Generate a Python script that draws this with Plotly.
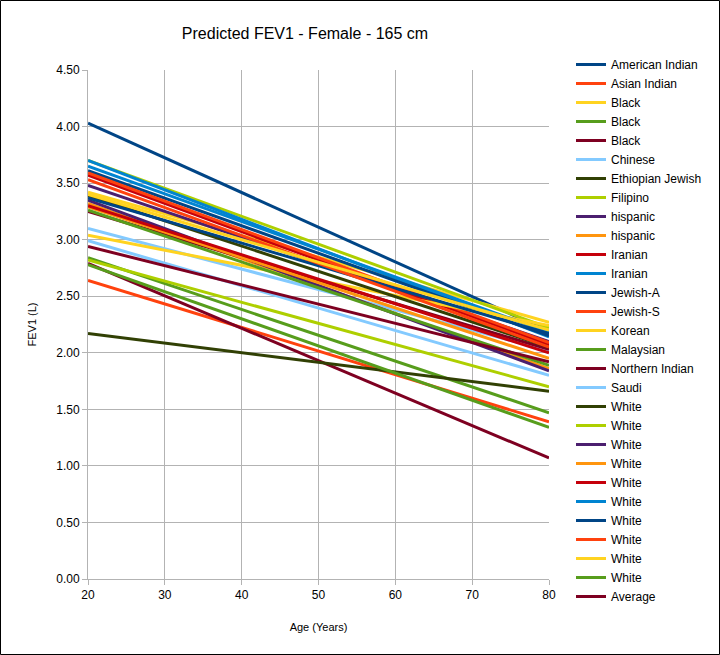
import plotly.graph_objects as go

ages = [20, 80]

series_names = [
    "American Indian", "Asian Indian", "Black", "Black", "Black", "Chinese",
    "Ethiopian Jewish", "Filipino", "hispanic", "hispanic", "Iranian", "Iranian",
    "Jewish-A", "Jewish-S", "Korean", "Malaysian", "Northern Indian", "Saudi",
    "White", "White", "White", "White", "White", "White", "White", "White",
    "White", "White", "Average",
]

fev1_at_20 = [
    4.03, 2.64, 3.42, 2.84, 2.79, 3.10,
    2.17, 3.70, 3.48, 3.32, 3.57, 3.70,
    3.61, 3.59, 3.04, 2.78, 3.25, 2.99,
    3.39, 2.82, 3.35, 3.29, 3.30, 3.65, 3.37, 3.53,
    3.40, 3.26, 2.94,
]

fev1_at_80 = [
    2.19, 1.39, 2.27, 1.47, 1.07, 2.02,
    1.66, 2.22, 2.10, 1.86, 2.07, 2.14,
    2.15, 2.09, 2.24, 1.34, 2.03, 1.80,
    2.05, 1.70, 1.84, 1.95, 2.00, 2.18, 2.17, 2.05,
    2.20, 1.89, 1.92,
]

palette = [
    "#004586", "#ff420e", "#ffd320", "#579d1c", "#7e0021", "#83caff",
    "#314004", "#aecf00", "#4b1f6f", "#ff950e", "#c5000b", "#0084d1",
]

y_ticks = [i * 0.5 for i in range(10)]
x_ticks = [20, 30, 40, 50, 60, 70, 80]

fig = go.Figure()
for i, name in enumerate(series_names):
    fig.add_trace(go.Scatter(
        x=ages,
        y=[fev1_at_20[i], fev1_at_80[i]],
        mode="lines",
        name=name,
        line=dict(color=palette[i % len(palette)], width=3),
    ))

W, H = 720, 655
ml, mr, mt, mb = 88, 171, 70, 76
pw, ph = W - ml - mr, H - mt - mb

fig.update_layout(
    width=W, height=H,
    margin=dict(l=ml, r=mr, t=mt, b=mb),
    paper_bgcolor="white",
    plot_bgcolor="white",
    font=dict(family="Liberation Sans, Arial, sans-serif", size=12, color="black"),
    title=dict(
        text="Predicted FEV1 - Female - 165 cm",
        x=305 / W, xanchor="center",
        y=1 - 33 / H, yanchor="middle",
        font=dict(size=16, color="black"),
    ),
    showlegend=True,
    legend=dict(
        x=(571 - ml) / pw, xanchor="left",
        y=1 + (mt - 50) / ph, yanchor="top",
        font=dict(size=12),
        tracegroupgap=0,
        itemwidth=30,
        maxheight=645,
        bgcolor="rgba(0,0,0,0)",
    ),
    xaxis=dict(
        range=[20, 80],
        tickvals=x_ticks,
        showgrid=True, gridcolor="#b3b3b3", gridwidth=1,
        zeroline=False,
        showline=True, linecolor="#b3b3b3", linewidth=1,
        ticks="outside", ticklen=5, tickcolor="#b3b3b3",
        title=dict(text="Age (Years)", font=dict(size=11), standoff=21),
        tickfont=dict(size=12),
    ),
    yaxis=dict(
        range=[0, 4.5],
        tickvals=y_ticks,
        tickformat=".2f",
        showgrid=True, gridcolor="#b3b3b3", gridwidth=1,
        zeroline=False,
        showline=True, linecolor="#b3b3b3", linewidth=1,
        ticks="outside", ticklen=5, tickcolor="#b3b3b3",
        title=dict(text="FEV1 (L)", font=dict(size=11), standoff=17),
        tickfont=dict(size=12),
    ),
    shapes=[dict(
        type="rect", xref="paper", yref="paper",
        x0=(0.5 - ml) / pw, x1=(W - 0.5 - ml) / pw,
        y0=-(mb - 0.5) / ph, y1=1 + (mt - 0.5) / ph,
        line=dict(color="black", width=1),
        fillcolor="rgba(0,0,0,0)",
        layer="above",
    )],
)

fig.write_html(
    "out.html",
    config={"displayModeBar": False},
    post_script="document.body.style.margin='0px';",
)
